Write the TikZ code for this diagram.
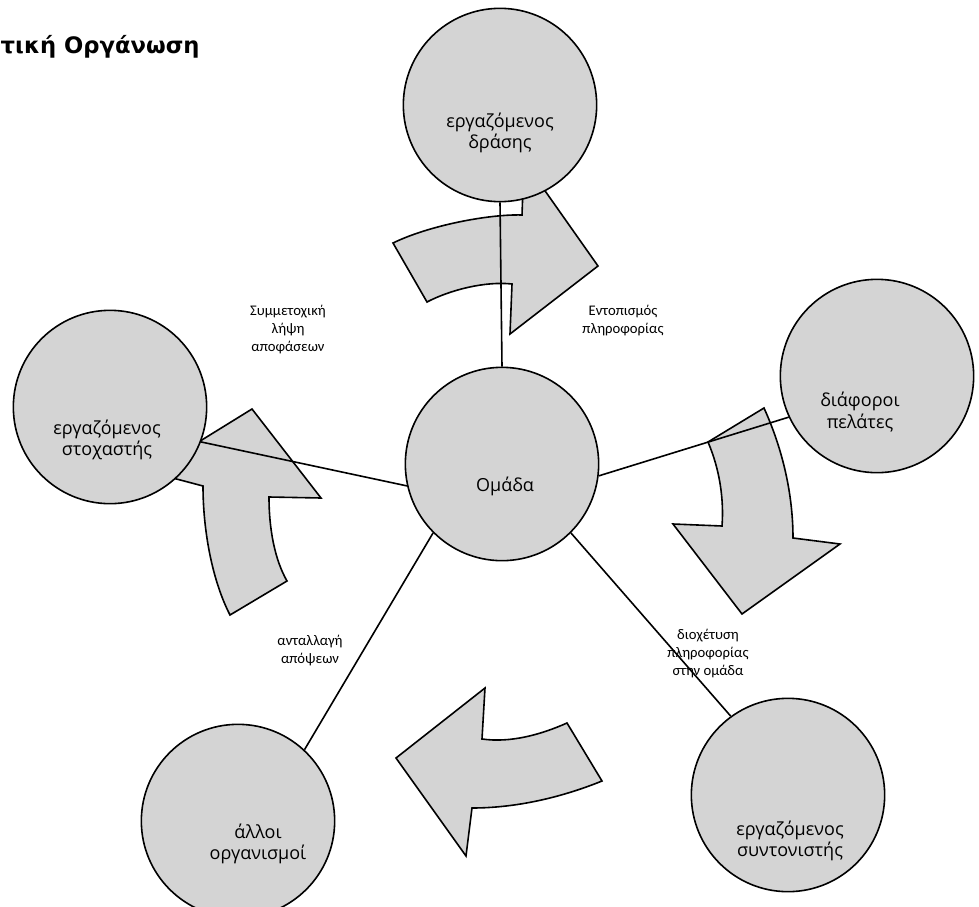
\documentclass[tikz,border=0pt]{standalone}
\usepackage{fontspec}
\setmainfont{Open Sans}
\newfontfamily\lblfont{Carlito}
\newfontfamily\titlefont{DejaVu Sans}
\definecolor{shade}{RGB}{212,212,212}
\begin{document}
\begin{tikzpicture}[x=0.75pt,y=-0.75pt,
  circ/.style={circle,draw,line width=1.2pt,fill=shade,minimum size=145pt,inner sep=0pt},
  ctext/.style={align=center,font=\fontsize{13.5}{16}\selectfont},
  lbl/.style={align=center,font=\lblfont\fontsize{11}{13.5}\selectfont},
  blk/.style={draw,line width=1.2pt,fill=shade}]
\clip (0,0) rectangle (979,907);
%\draw[help lines,step=50] (0,0) grid (979,907);
\node[anchor=west,font=\titlefont\bfseries\fontsize{17}{20}\selectfont] (title) at (-4,47) {τική Οργάνωση};
% block arrows
\draw[blk] (393,243) -- (427,302) .. controls (450,290) and (485,281) .. (512,284) -- (510,334) -- (598,266) -- (524,161) -- (522,215) .. controls (490,214) and (430,225) .. cycle;
\draw[blk] (230,615) .. controls (212,580) and (203,530) .. (203,486) -- (150,472) -- (252,409) -- (321,498) -- (269,497) .. controls (269,530) and (275,560) .. (287,581) -- cycle;
\draw[blk] (708,442) -- (764,408) .. controls (783,450) and (793,495) .. (793,538) -- (840,544) -- (742,614) -- (673,524) -- (722,526) .. controls (724,500) and (720,470) .. cycle;
\draw[blk] (396,758) -- (485,688) -- (482,739) .. controls (510,743) and (540,735) .. (567,723) -- (602,781) .. controls (560,798) and (515,808) .. (472,808) -- (466,856) -- cycle;
% circles
\node[circ] (drasi) at (500,105) {};
\node[circ] (stoxo) at (110,407) {};
\node[circ] (pelates) at (877,376) {};
\node[circ] (grp) at (502,464) {};
\node[circ] (allo) at (238,821) {};
\node[circ] (synt) at (788,795) {};
\draw[line width=1.2pt] (drasi.south) -- (grp.north);
\draw[line width=1.2pt] (stoxo.-21) -- (grp.193);
\draw[line width=1.2pt] (pelates.205) -- (grp.-7);
\draw[line width=1.2pt] (grp.225) -- (allo.47);
\draw[line width=1.2pt] (grp.-45) -- (synt.126);
\node[ctext] at (500,133) {εργαζόμενος\\δράσης};
\node[ctext] at (107,440) {εργαζόμενος\\στοχαστής};
\node[ctext] at (860,412) {διάφοροι\\πελάτες};
\node[ctext] at (505,486) {Ομάδα};
\node[ctext] at (258,844) {άλλοι\\οργανισμοί};
\node[ctext] at (790,841) {εργαζόμενος\\συντονιστής};
% labels
\node[lbl] (lsym) at (288,330) {Συμμετοχική\\λήψη\\αποφάσεων};
\node[lbl] (lent) at (623,321) {Εντοπισμός\\πληροφορίας};
\node[lbl] (lant) at (310,651) {ανταλλαγή\\απόψεων};
\node[lbl] (ldio) at (708,654) {διοχέτυση\\πληροφορίας\\στην ομάδα};
\end{tikzpicture}
\end{document}
